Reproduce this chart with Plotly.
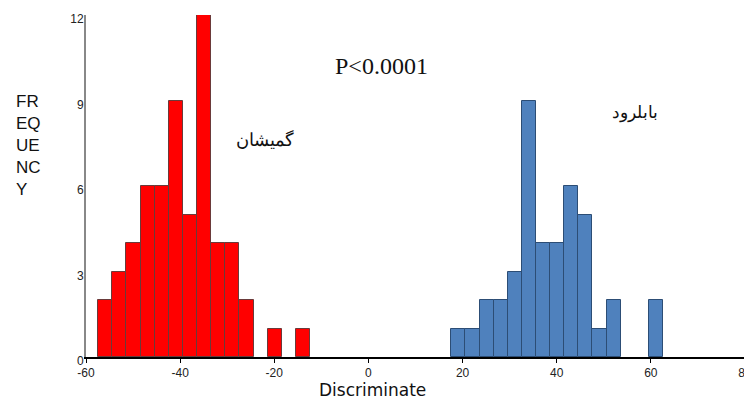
import plotly.graph_objects as go

# Bin width and bin centres (Discriminate score), counts
bin_width = 3
red_centers = [-55.9, -52.9, -49.9, -46.9, -43.9, -40.9, -37.9, -34.9, -31.9, -28.9, -25.9, -19.9, -13.9]
red_counts = [2, 3, 4, 6, 6, 9, 5, 12, 4, 4, 2, 1, 1]

blue_centers = [19.1, 22.1, 25.1, 28.1, 31.1, 34.1, 37.1, 40.1, 43.1, 46.1, 49.1, 52.1, 61.1]
blue_counts = [1, 1, 2, 2, 3, 9, 4, 4, 6, 5, 1, 2, 2]

x_ticks = [-60, -40, -20, 0, 20, 40, 60, 80]
y_ticks = [0, 3, 6, 9, 12]

# page body has an 8px margin, so the figure is offset by 8px
OFF = 8
W, H = 752 - OFF, 401 - OFF
L, R, T, B = 86 - OFF, 7, 15 - OFF, 44
pw, ph = W - L - R, H - T - B


def px(x):
    return (x - OFF - L) / pw


def py(y):
    return (H - B - (y - OFF)) / ph


fig = go.Figure()
fig.add_trace(go.Bar(x=red_centers, y=red_counts, width=bin_width,
                     marker=dict(color="#FF0000", line=dict(color="#6a3a3a", width=1)),
                     showlegend=False))
fig.add_trace(go.Bar(x=blue_centers, y=blue_counts, width=bin_width,
                     marker=dict(color="#4F81BD", line=dict(color="#2C4D75", width=1)),
                     showlegend=False))

fig.update_layout(
    width=W, height=H,
    margin=dict(l=L, r=R, t=T, b=B, autoexpand=False),
    paper_bgcolor="white", plot_bgcolor="white",
    bargap=0,
    font=dict(family="Arial, Liberation Sans, sans-serif", color="#222"),
    xaxis=dict(range=[-60, 80], tickvals=x_ticks, ticktext=[str(v) for v in x_ticks],
               automargin=False,
               showgrid=False, zeroline=False, showline=True, linecolor="black", linewidth=1.5,
               ticks="outside", ticklen=4, tickcolor="black", tickfont=dict(size=12, color="#222")),
    yaxis=dict(range=[0, 12], tickvals=y_ticks, ticktext=[str(v) for v in y_ticks],
               automargin=False,
               showgrid=False, zeroline=False, showline=True, linecolor="#888", linewidth=2,
               ticks="", ticklabelstandoff=-2, ticklabelshift=4,
               tickfont=dict(size=12, color="#222")),
    annotations=[
        dict(text="P<0.0001", x=px(381), y=py(51), xref="paper", yref="paper",
             showarrow=False, font=dict(family="Liberation Serif, Times New Roman, serif", size=24, color="#111")),
        dict(text="گمیشان", x=px(234), y=py(139), xref="paper", yref="paper",
             showarrow=False, font=dict(family="Liberation Serif, DejaVu Serif, serif", size=18, color="#111")),
        dict(text="بابلرود", x=px(660), y=py(101), xref="paper", yref="paper",
             showarrow=False, font=dict(family="Liberation Serif, DejaVu Serif, serif", size=17, color="#111")),
        dict(text="Discriminate", x=px(372), y=py(402), xref="paper", yref="paper",
             showarrow=False, font=dict(family="DejaVu Sans, Verdana, sans-serif", size=17, color="#111")),
        dict(text="FR<br>EQ<br>UE<br>NC<br>Y", x=px(14), y=py(145.5), xref="paper", yref="paper",
             xanchor="left", align="left", showarrow=False, font=dict(size=17, color="#111")),
    ],
)

fig.write_html("out.html")
